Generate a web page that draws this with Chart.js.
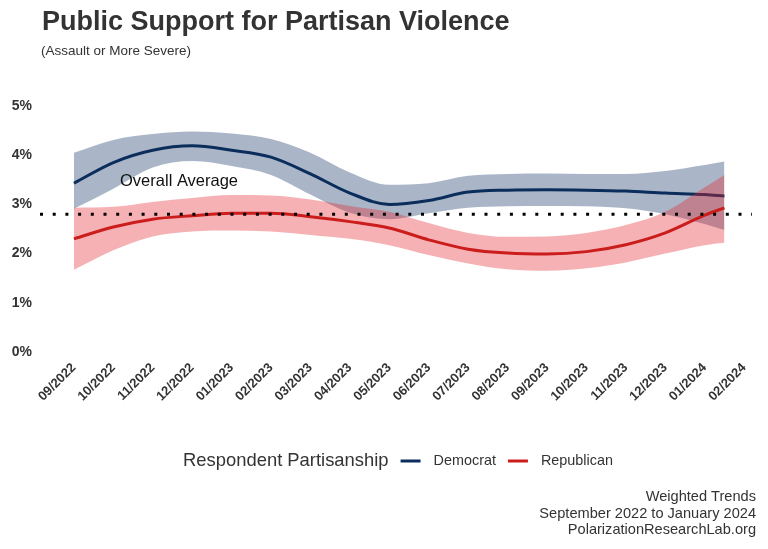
<!DOCTYPE html>
<html>
<head>
<meta charset="utf-8">
<script src="https://cdn.jsdelivr.net/npm/chart.js@4.4.1/dist/chart.umd.min.js"></script>
<style>
  html, body { margin: 0; padding: 0; background: #fff; }
  #wrap { width: 768px; height: 549px; position: relative; }
</style>
</head>
<body>
<div id="wrap"><canvas id="chart"></canvas></div>
<script>
// month ticks along the bottom
const monthLabels = ['09/2022', '10/2022', '11/2022', '12/2022', '01/2023', '02/2023',
  '03/2023', '04/2023', '05/2023', '06/2023', '07/2023', '08/2023', '09/2023',
  '10/2023', '11/2023', '12/2023', '01/2024', '02/2024'];

// positions of the smoothed estimates (month index, last one mid-January 2024)
const months = [0, 1, 2, 3, 4, 5, 6, 7, 8, 9, 10, 11, 12, 13, 14, 15, 16, 16.5];

// Democrat trend and band (%)
const demLine  = [3.43, 3.85, 4.10, 4.19, 4.10, 3.96, 3.62, 3.23, 3.00, 3.08, 3.25, 3.29, 3.30, 3.29, 3.27, 3.23, 3.20, 3.17];
const demUpper = [4.05, 4.31, 4.43, 4.48, 4.44, 4.33, 4.05, 3.65, 3.40, 3.43, 3.58, 3.62, 3.63, 3.62, 3.62, 3.68, 3.80, 3.87];
const demLower = [2.91, 3.32, 3.75, 3.88, 3.78, 3.60, 3.20, 2.83, 2.70, 2.82, 2.93, 2.96, 2.97, 2.96, 2.92, 2.80, 2.60, 2.48];

// Republican trend and band (%)
const repLine  = [2.30, 2.54, 2.70, 2.77, 2.82, 2.82, 2.75, 2.65, 2.52, 2.28, 2.09, 2.01, 1.99, 2.04, 2.18, 2.42, 2.78, 2.93];
const repUpper = [2.93, 2.95, 3.05, 3.13, 3.19, 3.18, 3.10, 2.97, 2.85, 2.62, 2.42, 2.34, 2.35, 2.42, 2.58, 2.85, 3.35, 3.60];
const repLower = [1.67, 2.07, 2.35, 2.45, 2.47, 2.45, 2.38, 2.30, 2.17, 1.97, 1.80, 1.68, 1.65, 1.70, 1.82, 2.00, 2.17, 2.22];

const overallAverage = 2.8;
const yTicks = [0, 1, 2, 3, 4, 5];

const X_MIN = -0.86, X_MAX = 17.2;

const DEM = '#0b2d5c';
const REP = '#cc1d1d';
const FONT = '"Liberation Sans", Arial, Helvetica, sans-serif';

const pts = arr => months.map((m, i) => ({ x: m, y: arr[i] }));

// title, "Overall Average" label, legend and caption
const extras = {
  id: 'extras',
  afterDraw(chart) {
    const ctx = chart.ctx;
    const xs = chart.scales.x, ys = chart.scales.y;
    ctx.save();

    ctx.textAlign = 'left';
    ctx.textBaseline = 'alphabetic';
    ctx.fillStyle = '#333';
    ctx.font = 'bold 27px ' + FONT;
    ctx.fillText('Public Support for Partisan Violence', 42, 30);
    ctx.font = '13.5px ' + FONT;
    ctx.fillText('(Assault or More Severe)', 41, 55);

    ctx.textBaseline = 'middle';
    ctx.fillStyle = '#111';
    ctx.font = '16.5px ' + FONT;
    ctx.fillText('Overall Average', xs.getPixelForValue(1.17), ys.getPixelForValue(3.47));

    // legend
    const title = 'Respondent Partisanship';
    const items = [{ text: 'Democrat', color: DEM }, { text: 'Republican', color: REP }];
    ctx.font = '18.4px ' + FONT;
    const tw = ctx.measureText(title).width;
    ctx.font = '14.4px ' + FONT;
    let total = tw;
    items.forEach(it => { it.w = ctx.measureText(it.text).width; total += 12 + 20 + 13 + it.w; });
    let x = 398 - total / 2;
    const ly = 461;
    ctx.fillStyle = '#333';
    ctx.font = '18.4px ' + FONT;
    ctx.fillText(title, x, ly);
    x += tw;
    ctx.font = '14.4px ' + FONT;
    items.forEach(it => {
      x += 12;
      ctx.strokeStyle = it.color;
      ctx.lineWidth = 3;
      ctx.beginPath();
      ctx.moveTo(x, ly);
      ctx.lineTo(x + 20, ly);
      ctx.stroke();
      x += 20 + 13;
      ctx.fillStyle = '#333';
      ctx.fillText(it.text, x, ly);
      x += it.w;
    });

    // caption
    ctx.textAlign = 'right';
    ctx.fillStyle = '#333';
    ctx.font = '14.6px ' + FONT;
    ['Weighted Trends', 'September 2022 to January 2024', 'PolarizationResearchLab.org']
      .forEach((t, i) => ctx.fillText(t, 756, 497 + i * 16.5));
    ctx.restore();
  }
};

const base = { pointRadius: 0, pointHoverRadius: 0, tension: 0.4, cubicInterpolationMode: 'monotone' };

new Chart(document.getElementById('chart'), {
  type: 'line',
  data: {
    datasets: [
      { ...base, label: 'avg', data: [{ x: X_MIN, y: overallAverage }, { x: X_MAX, y: overallAverage }],
        borderColor: '#000', borderWidth: 3, borderDash: [3, 9.7], borderCapStyle: 'butt', fill: false, order: -1 },
      { ...base, label: 'Republican', data: pts(repLine), borderColor: REP, borderWidth: 3, fill: false, order: 0 },
      { ...base, label: 'rep upper', data: pts(repUpper), borderWidth: 0, borderColor: 'rgba(0,0,0,0)',
        backgroundColor: 'rgba(226,40,48,0.36)', fill: '+1', order: 1 },
      { ...base, label: 'rep lower', data: pts(repLower), borderWidth: 0, borderColor: 'rgba(0,0,0,0)', fill: false, order: 1 },
      { ...base, label: 'Democrat', data: pts(demLine), borderColor: DEM, borderWidth: 3, fill: false, order: 2 },
      { ...base, label: 'dem upper', data: pts(demUpper), borderWidth: 0, borderColor: 'rgba(0,0,0,0)',
        backgroundColor: 'rgba(12,45,94,0.35)', fill: '+1', order: 3 },
      { ...base, label: 'dem lower', data: pts(demLower), borderWidth: 0, borderColor: 'rgba(0,0,0,0)', fill: false, order: 3 }
    ]
  },
  options: {
    responsive: true,
    maintainAspectRatio: false,
    animation: false,
    events: [],
    layout: { padding: { left: 0, right: 16, top: 106, bottom: 137 } },
    plugins: {
      legend: { display: false },
      tooltip: { enabled: false },
      title: { display: false },
      subtitle: { display: false }
    },
    scales: {
      x: {
        type: 'linear', min: X_MIN, max: X_MAX,
        grid: { display: false }, border: { display: false },
        afterBuildTicks: s => { s.ticks = monthLabels.map((_, i) => ({ value: i })); },
        afterFit: s => { s.height = 60; },
        ticks: {
          autoSkip: false, maxRotation: 45, minRotation: 45, padding: 0,
          color: '#333', font: { family: FONT, size: 13, weight: 'bold' },
          callback: v => monthLabels[v]
        }
      },
      y: {
        min: 0, max: 5,
        grid: { display: false, drawTicks: false }, border: { display: false },
        afterBuildTicks: s => { s.ticks = yTicks.map(v => ({ value: v })); },
        afterFit: s => { s.width = 40; },
        ticks: {
          padding: 8, color: '#333', font: { family: FONT, size: 14, weight: 'bold' },
          callback: v => v + '%'
        }
      }
    }
  },
  plugins: [extras]
});
</script>
</body>
</html>
